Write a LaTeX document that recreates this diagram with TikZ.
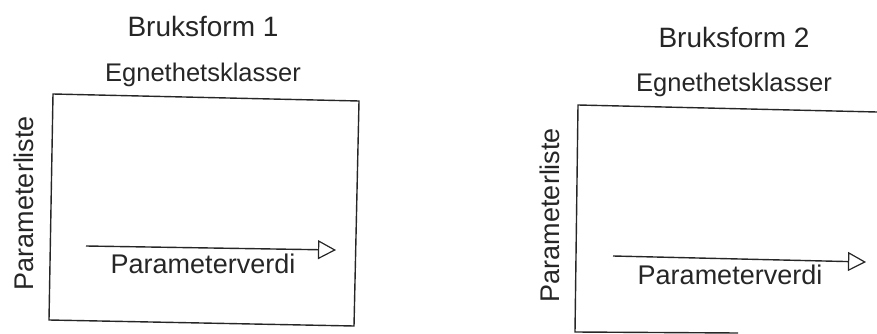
\documentclass[tikz,border=0pt]{standalone}
\usepackage{fontspec}
\setmainfont{Liberation Sans}
\usetikzlibrary{arrows.meta}
\tikzset{
  lbl/.style={inner sep=0pt, text=black!85},
  frame/.style={line width=1.4pt, black!85},
  axis/.style={line width=1.4pt, black!85, -{Triangle[open, length=18pt, width=19pt, line width=1.2pt]}}
}
\begin{document}
\begin{tikzpicture}[x=1pt,y=-1pt]
\useasboundingbox (0,0) rectangle (877,334);
% ---- Bruksform 1 ----
\node[lbl, font=\fontsize{28}{30}\selectfont] (t1) at (203,26) {Bruksform 1};
\node[lbl, font=\fontsize{25.5}{28}\selectfont] (e1) at (203,75) {Egnethetsklasser};
\node[lbl, font=\fontsize{27}{29}\selectfont, rotate=90] (p1) at (24,203) {Parameterliste};
\coordinate (a1) at (53,94);
\coordinate (b1) at (359,101);
\coordinate (c1) at (354,326);
\coordinate (d1) at (49,320);
\draw[frame] (a1) -- (b1) -- (c1) -- (d1) -- cycle;
\coordinate (s1) at (86,246);
\coordinate (f1) at (336,250);
\draw[axis] (s1) -- (f1);
\node[lbl, font=\fontsize{27}{29}\selectfont] (v1) at (203,264) {Parameterverdi};
% ---- Bruksform 2 ----
\node[lbl, font=\fontsize{28}{30}\selectfont] (t2) at (734,37) {Bruksform 2};
\node[lbl, font=\fontsize{25.5}{28}\selectfont] (e2) at (734,85) {Egnethetsklasser};
\node[lbl, font=\fontsize{27}{29}\selectfont, rotate=90] (p2) at (550,215) {Parameterliste};
\coordinate (a2) at (578,105);
\coordinate (b2) at (877,112);
\coordinate (d2) at (575,332);
\coordinate (c2) at (738,333);
\draw[frame] (b2) -- (a2) -- (d2) -- (c2);
\coordinate (s2) at (613,256);
\coordinate (f2) at (866,262);
\draw[axis] (s2) -- (f2);
\node[lbl, font=\fontsize{27}{29}\selectfont] (v2) at (730,275) {Parameterverdi};
\end{tikzpicture}
\end{document}
